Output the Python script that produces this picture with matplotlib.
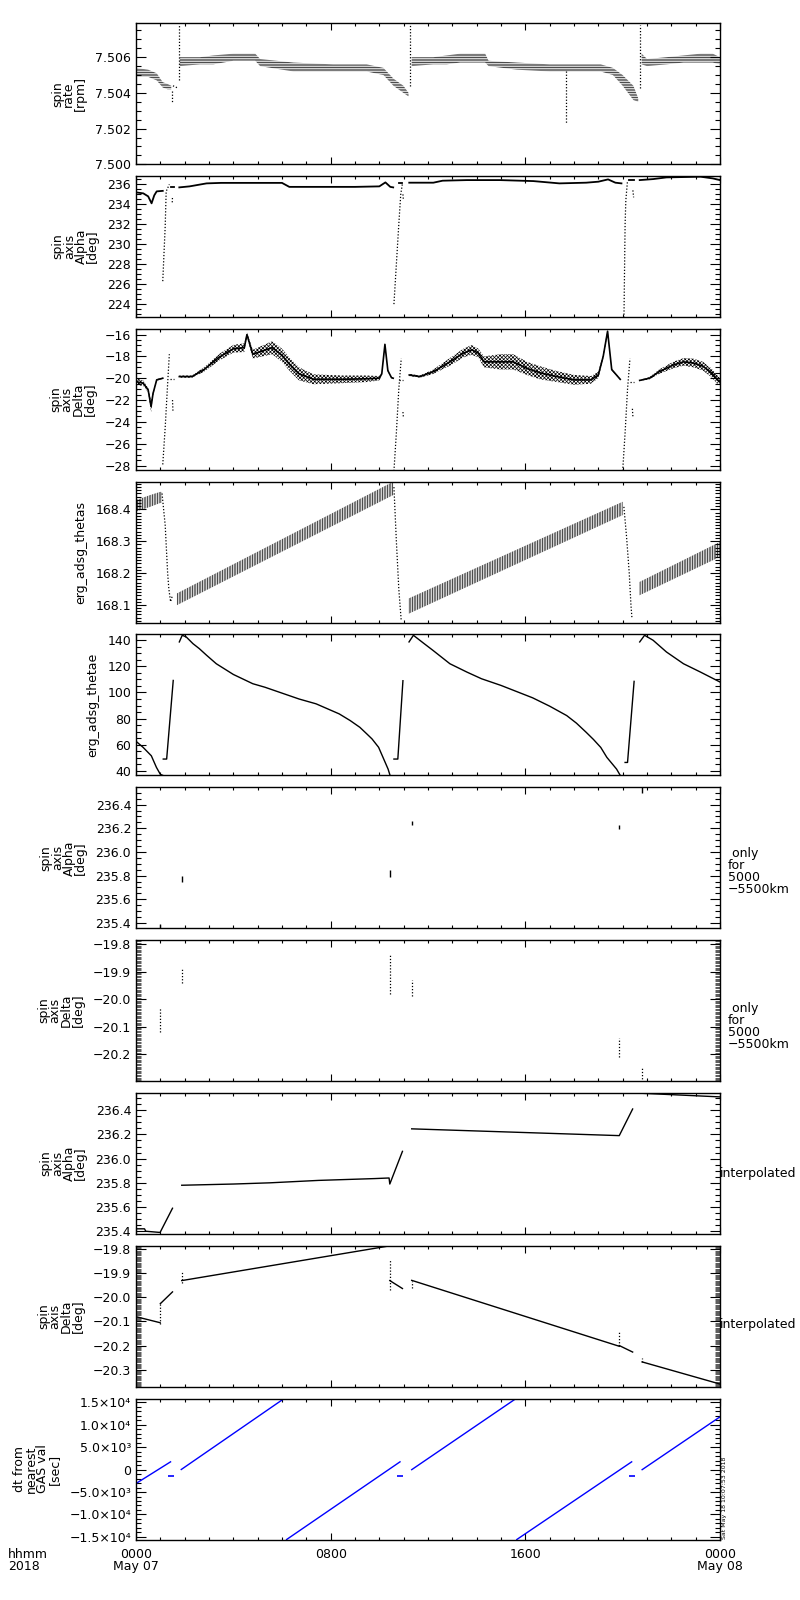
import matplotlib
matplotlib.use('Agg')
import matplotlib.pyplot as plt
from matplotlib.ticker import MultipleLocator, FuncFormatter

plt.rcParams['font.family'] = ['DejaVu Sans']
plt.rcParams['font.size'] = 9
plt.rcParams['hatch.linewidth'] = 0.5
plt.rcParams['hatch.color'] = 'black'

# ---------------- data (time in hours from 2018-05-07 00:00) ----------------
# panel 1: spin rate [rpm] -- banded scatter, low / high edge per segment
rate_band_t = [[0.0, 0.5, 0.85, 1.1, 1.3, 1.45],
               [1.8, 2.63, 3.18, 4.0, 4.9, 5.1, 6.47, 8.1, 9.48, 10.17, 10.58, 10.99, 11.2],
               [11.33, 12.22, 12.77, 13.32, 14.35, 14.49, 15.66, 17.0, 19.1, 19.6, 20.0, 20.44, 20.64],
               [20.78, 21.0, 21.8, 22.5, 23.2, 23.7, 24.0]]
rate_band_lo = [[7.5049, 7.5049, 7.5047, 7.5043, 7.5042, 7.5042],
                [7.5055, 7.5056, 7.5056, 7.5058, 7.5058, 7.5055, 7.5052, 7.5052, 7.5052, 7.5050, 7.5044, 7.5040, 7.5038],
                [7.5055, 7.5056, 7.5056, 7.5057, 7.5057, 7.5055, 7.5053, 7.5052, 7.5052, 7.5050, 7.5044, 7.5036, 7.5035],
                [7.5056, 7.5055, 7.5056, 7.5057, 7.5057, 7.5057, 7.5056]]
rate_band_hi = [[7.5054, 7.5053, 7.5051, 7.5046, 7.5045, 7.5044],
                [7.5060, 7.5060, 7.5061, 7.5062, 7.5062, 7.5059, 7.5057, 7.5056, 7.5056, 7.5054, 7.5048, 7.5044, 7.5040],
                [7.5060, 7.5060, 7.5061, 7.5062, 7.5062, 7.5058, 7.5057, 7.5056, 7.5056, 7.5054, 7.5050, 7.5044, 7.5037],
                [7.5062, 7.5059, 7.5060, 7.5061, 7.5062, 7.5062, 7.5060]]
rate_jump_t = [[1.52, 1.75], [1.48, 1.48], [1.78, 1.78], [11.26, 11.26], [17.67, 17.67], [20.7, 20.7]]
rate_jump_v = [[7.5044, 7.50425], [7.5041, 7.5035], [7.5047, 7.5078], [7.5044, 7.5078], [7.5052, 7.5023], [7.5043, 7.5078]]

# panel 2: spin axis alpha [deg]
alpha_line_t = [[0.0, 0.3, 0.5, 0.64, 0.75, 0.85, 1.1],
                [1.78, 2.2, 2.9, 3.5, 6.0, 6.3, 7.5, 9.0, 10.0, 10.25, 10.45, 10.57],
                [11.23, 12.22, 12.6, 13.6, 14.96, 16.33, 17.4, 18.5, 19.0, 19.4, 19.7, 19.95],
                [20.7, 21.25, 21.8, 23.2, 23.7, 24.0],
                [1.42, 1.58], [10.8, 10.92], [20.25, 20.45]]
alpha_line_v = [[235.2, 235.1, 234.8, 234.1, 234.9, 235.3, 235.35],
                [235.7, 235.8, 236.1, 236.15, 236.15, 235.75, 235.75, 235.75, 235.8, 236.2, 235.75, 235.7],
                [236.17, 236.17, 236.37, 236.43, 236.43, 236.33, 236.1, 236.17, 236.27, 236.5, 236.17, 236.1],
                [236.43, 236.53, 236.7, 236.77, 236.6, 236.43],
                [235.75, 235.75], [236.1, 236.1], [236.4, 236.4]]
alpha_jump_t = [[1.1, 1.2, 1.24, 1.37], [1.49, 1.5], [10.6, 10.7, 10.8, 10.88, 10.95], [10.97, 10.99],
                [20.05, 20.1, 20.13, 20.2], [20.42, 20.45]]
alpha_jump_v = [[226.3, 231.8, 235.3, 236.0], [234.2, 234.8], [224.0, 228.0, 232.0, 235.0, 236.1], [235.0, 234.4],
                [222.0, 232.0, 234.4, 236.4], [235.4, 234.7]]

# panel 3: spin axis delta [deg] -- scatter band: centre / half width
delta_band_t = [[0.0, 0.3, 0.5, 0.62, 0.7, 0.85, 1.1],
                [1.78, 2.3, 2.8, 3.4, 4.0, 4.45, 4.56, 4.8, 5.2, 5.6, 6.0, 6.3, 6.7, 7.3, 8.5, 9.5, 10.0, 10.1, 10.23, 10.35, 10.5, 10.57],
                [11.23, 11.67, 12.22, 12.9, 13.45, 13.8, 14.07, 14.3, 14.96, 15.5, 16.07, 16.6, 17.3, 18.0, 18.7, 19.0, 19.2, 19.38, 19.55, 19.9],
                [20.7, 21.1, 21.5, 22.07, 22.5, 22.9, 23.3, 23.65, 23.9, 24.0]]
delta_band_c = [[-20.31, -20.46, -21.08, -22.6, -21.4, -20.15, -20.0],
                [-19.85, -19.85, -19.2, -18.1, -17.3, -17.2, -16.0, -17.8, -17.5, -17.2, -17.9, -18.7, -19.6, -20.1, -20.1, -20.05, -20.0, -19.6, -16.9, -19.3, -19.95, -20.0],
                [-19.7, -19.85, -19.4, -18.5, -17.7, -17.4, -17.7, -18.5, -18.5, -18.5, -19.1, -19.5, -19.85, -20.15, -20.15, -19.7, -18.0, -15.7, -19.2, -20.1],
                [-20.2, -20.0, -19.4, -18.8, -18.5, -18.6, -18.9, -19.5, -20.15, -20.3]]
delta_band_hw = [[0.3, 0.25, 0.2, 0.5, 0.2, 0.08, 0.05],
                 [0.1, 0.1, 0.2, 0.3, 0.35, 0.4, 0.2, 0.4, 0.5, 0.6, 0.6, 0.6, 0.6, 0.45, 0.35, 0.3, 0.2, 0.15, 0.15, 0.1, 0.05, 0.05],
                 [0.1, 0.1, 0.2, 0.35, 0.4, 0.45, 0.4, 0.5, 0.7, 0.7, 0.6, 0.6, 0.5, 0.45, 0.35, 0.3, 0.2, 0.2, 0.1, 0.05],
                 [0.05, 0.1, 0.2, 0.3, 0.35, 0.4, 0.4, 0.4, 0.4, 0.3]]
delta_jump_t = [[1.1, 1.2, 1.3, 1.37], [1.5, 1.52], [1.38, 1.55], [10.6, 10.7, 10.8, 10.9], [10.97, 10.99],
                [10.82, 10.97], [20.0, 20.1, 20.2, 20.3], [20.4, 20.42], [20.3, 20.45]]
delta_jump_v = [[-27.9, -24.5, -20.5, -17.8], [-22.0, -23.1], [-20.1, -20.1], [-28.5, -25.0, -21.0, -18.2], [-23.1, -23.6],
                [-20.2, -20.2], [-28.5, -25.0, -21.0, -18.2], [-22.8, -23.5], [-20.3, -20.3]]

# panel 4: erg_adsg_thetas -- sawtooth band
thetas_band_t = [[0.0, 0.58, 0.99, 1.07], [1.68, 10.57], [11.2, 20.0], [20.69, 24.0]]
thetas_band_lo = [[168.393, 168.408, 168.42, 168.42], [168.099, 168.445], [168.072, 168.382], [168.13, 168.251]]
thetas_band_hi = [[168.429, 168.445, 168.455, 168.455], [168.136, 168.487], [168.12, 168.424], [168.172, 168.298]]
thetas_jump_t = [[1.07, 1.2, 1.3, 1.35, 1.42, 1.5], [10.6, 10.7, 10.8, 10.85, 10.9],
                 [20.05, 20.16, 20.27, 20.34, 20.38]]
thetas_jump_v = [[168.45, 168.35, 168.2, 168.15, 168.11, 168.13], [168.47, 168.3, 168.15, 168.1, 168.05],
                 [168.408, 168.314, 168.2, 168.1, 168.06]]

# panel 5: erg_adsg_thetae
thetae_t = [[0.0, 0.29, 0.63, 0.84, 1.0, 1.1],
            [1.12, 1.26, 1.53],
            [1.78, 1.9, 2.06, 2.34, 2.6, 2.9, 3.3, 4.0, 4.8, 5.3, 6.0, 6.7, 7.4, 8.35, 8.8, 9.2, 9.5, 9.7, 9.97,
             10.15, 10.36, 10.44],
            [10.6, 10.76, 10.97],
            [11.22, 11.4, 11.8, 12.2, 12.9, 13.6, 14.2, 15.0, 16.3, 17.0, 17.7, 18.1, 18.5, 18.8, 19.1, 19.35,
             19.75, 19.9],
            [20.1, 20.2, 20.47],
            [20.7, 20.9, 21.25, 21.8, 22.5, 23.2, 24.0]]
thetae_v = [[62.6, 58.0, 51.5, 42.6, 37.3, 36.5],
            [49.0, 49.0, 109.2],
            [138.7, 143.8, 142.6, 137.4, 133.6, 128.5, 122.0, 113.8, 106.7, 104.0, 99.5, 95.0, 91.3, 83.6, 78.5,
             73.3, 68.0, 64.4, 58.0, 50.3, 41.3, 36.5],
            [49.0, 49.0, 109.0],
            [138.7, 143.8, 138.0, 132.3, 122.0, 115.6, 110.5, 105.4, 95.9, 89.5, 82.3, 76.5, 69.5, 64.0, 57.9,
             50.3, 41.3, 36.5],
            [46.4, 46.4, 108.5],
            [138.7, 143.8, 140.0, 131.0, 122.0, 115.6, 108.0]]

# panels 6/7: GAS values only for 5000-5500 km (short vertical marks)
gas_t = [0.99, 1.88, 10.43, 11.33, 19.86, 20.78]
gas_alpha_lo = [235.36, 235.75, 235.79, 236.23, 236.19, 236.50]
gas_alpha_hi = [235.39, 235.80, 235.85, 236.26, 236.23, 236.55]
gas_delta_lo = [-20.12, -19.94, -19.98, -19.99, -20.21, -20.30]
gas_delta_hi = [-20.03, -19.89, -19.84, -19.93, -20.14, -20.25]

# panel 8: interpolated alpha
ialpha_t = [[0.0, 0.35, 0.4, 0.99, 1.5],
            [1.88, 4.0, 5.5, 7.5, 9.8, 10.4, 10.43, 10.95],
            [11.33, 19.86, 20.41],
            [20.78, 24.0]]
ialpha_v = [[235.42, 235.42, 235.40, 235.39, 235.59],
            [235.78, 235.79, 235.80, 235.82, 235.835, 235.84, 235.79, 236.06],
            [236.246, 236.19, 236.41],
            [236.54, 236.51]]

# panel 9: interpolated delta
idelta_t = [[0.0, 0.99], [1.0, 1.5], [1.88, 10.4], [10.43, 10.95], [11.33, 19.86], [19.86, 20.41], [20.8, 24.0]]
idelta_v = [[-20.08, -20.105], [-20.026, -19.977], [-19.93, -19.786], [-19.93, -19.963],
            [-19.929, -20.203], [-20.2, -20.227], [-20.268, -20.36]]
idelta_dot_t = [0.99, 1.88, 10.42, 11.33, 19.86, 20.8]
idelta_dot_lo = [-20.11, -19.94, -19.97, -19.96, -20.2, -20.27]
idelta_dot_hi = [-20.02, -19.89, -19.84, -19.93, -20.14, -20.25]

# panel 10: dt from nearest GAS value [sec]
dt_t = [[0.0, 1.42], [1.86, 6.05], [6.19, 10.85], [11.33, 15.58], [15.65, 20.37], [20.8, 24.0]]
dt_v = [[-3089, 1749], [37, 15744], [-15596, 1749], [0, 15744], [-15596, 1749], [0, 11800]]
dt_mark_t = [1.42, 10.85, 20.37]
dt_mark_v = [-1377, -1377, -1377]
dt_tick_labels = {15000: '1.5\u00d710\u2074', 10000: '1.0\u00d710\u2074', 5000: '5.0\u00d710\u00b3', 0: '0',
                  -5000: '\u22125.0\u00d710\u00b3', -10000: '\u22121.0\u00d710\u2074', -15000: '\u22121.5\u00d710\u2074'}

x_tick_labels = ['0000\nMay 07', '0800', '1600', '0000\nMay 08']


def fmt(dec):
    return FuncFormatter(lambda v, p: f'{v:.{dec}f}'.replace('-', '\u2212'))


def style(ax, ylim, major, minor, dec, label, minor_width=0.8):
    ax.set_xlim(0, 24)
    ax.set_ylim(*ylim)
    ax.xaxis.set_major_locator(MultipleLocator(8))
    ax.xaxis.set_minor_locator(MultipleLocator(1))
    ax.yaxis.set_major_locator(MultipleLocator(major))
    ax.yaxis.set_minor_locator(MultipleLocator(minor))
    ax.tick_params(which='both', direction='in', top=True, right=True, width=0.8, labelsize=9)
    ax.tick_params(axis='y', which='major', length=7)
    ax.tick_params(axis='y', which='minor', length=3.5, width=minor_width)
    ax.tick_params(axis='x', which='major', length=5)
    ax.tick_params(axis='x', which='minor', length=2.5, width=0.8)
    ax.tick_params(axis='x', labelbottom=False)
    if dec is not None:
        ax.yaxis.set_major_formatter(fmt(dec))
    ax.set_ylabel(label, linespacing=0.85, labelpad=6)
    for s in ax.spines.values():
        s.set_linewidth(1.0)


fig = plt.figure(figsize=(8, 16), dpi=100)
axes = []
for i in range(10):
    top = 23.3 + i * 152.8
    axes.append(fig.add_axes([136 / 800, 1 - (top + 141) / 1600, 584 / 800, 141 / 1600]))

dots = (0, (1, 1.5))

# 1 spin rate
ax = axes[0]
for t, lo, hi in zip(rate_band_t, rate_band_lo, rate_band_hi):
    ax.fill_between(t, lo, hi, facecolor='none', edgecolor='black', hatch='-' * 10, linewidth=0)
for t, v in zip(rate_jump_t, rate_jump_v):
    ax.plot(t, v, color='black', lw=0.9, ls=dots)
style(ax, (7.5000, 7.5079), 0.002, 0.0005, 3, 'spin\nrate\n[rpm]')

# 2 alpha
ax = axes[1]
for t, v in zip(alpha_line_t, alpha_line_v):
    ax.plot(t, v, color='black', lw=1.3)
for t, v in zip(alpha_jump_t, alpha_jump_v):
    ax.plot(t, v, color='black', lw=0.9, ls=dots)
style(ax, (222.7, 236.83), 2, 0.5, 0, 'spin\naxis\nAlpha\n[deg]')

# 3 delta
ax = axes[2]
for t, c, hw in zip(delta_band_t, delta_band_c, delta_band_hw):
    lo = [a - b for a, b in zip(c, hw)]
    hi = [a + b for a, b in zip(c, hw)]
    ax.fill_between(t, lo, hi, facecolor='none', edgecolor='black', hatch='x' * 9, linewidth=0)
    ax.plot(t, c, color='black', lw=1.2)
for t, v in zip(delta_jump_t, delta_jump_v):
    ax.plot(t, v, color='black', lw=0.9, ls=dots)
style(ax, (-28.4, -15.48), 2, 0.5, 0, 'spin\naxis\nDelta\n[deg]')

# 4 thetas
ax = axes[3]
for t, lo, hi in zip(thetas_band_t, thetas_band_lo, thetas_band_hi):
    ax.fill_between(t, lo, hi, facecolor='none', edgecolor='black', hatch='|' * 10, linewidth=0)
for t, v in zip(thetas_jump_t, thetas_jump_v):
    ax.plot(t, v, color='black', lw=0.9, ls=dots)
style(ax, (168.044, 168.487), 0.1, 0.01, 1, 'erg_adsg_thetas')

# 5 thetae
ax = axes[4]
for t, v in zip(thetae_t, thetae_v):
    ax.plot(t, v, color='black', lw=1.0)
style(ax, (36.4, 144.4), 20, 5, 0, 'erg_adsg_thetae')

# 6 alpha (5000-5500 km only)
ax = axes[5]
ax.vlines(gas_t, gas_alpha_lo, gas_alpha_hi, color='black', lw=1.0)
style(ax, (235.355, 236.546), 0.2, 0.05, 1, 'spin\naxis\nAlpha\n[deg]')
ax.text(1.013, 0.40, ' only\nfor\n5000\n\u22125500km', transform=ax.transAxes,
        ha='left', va='center', linespacing=0.9)

# 7 delta (5000-5500 km only)
ax = axes[6]
ax.vlines(gas_t, gas_delta_lo, gas_delta_hi, color='black', lw=0.9, linestyles=[dots])
style(ax, (-20.298, -19.785), 0.1, 0.005, 1, 'spin\naxis\nDelta\n[deg]', minor_width=0.45)
ax.text(1.013, 0.39, ' only\nfor\n5000\n\u22125500km', transform=ax.transAxes,
        ha='left', va='center', linespacing=0.9)

# 8 interpolated alpha
ax = axes[7]
for t, v in zip(ialpha_t, ialpha_v):
    ax.plot(t, v, color='black', lw=1.0)
style(ax, (235.378, 236.543), 0.2, 0.05, 1, 'spin\naxis\nAlpha\n[deg]')
ax.text(1.0, 0.43, 'interpolated', transform=ax.transAxes, ha='left', va='center')

# 9 interpolated delta
ax = axes[8]
for t, v in zip(idelta_t, idelta_v):
    ax.plot(t, v, color='black', lw=1.0)
ax.vlines(idelta_dot_t, idelta_dot_lo, idelta_dot_hi, color='black', lw=0.9, linestyles=[dots])
style(ax, (-20.371, -19.785), 0.1, 0.005, 1, 'spin\naxis\nDelta\n[deg]', minor_width=0.45)
ax.text(1.0, 0.44, 'interpolated', transform=ax.transAxes, ha='left', va='center')

# 10 dt
ax = axes[9]
for t, v in zip(dt_t, dt_v):
    ax.plot(t, v, color='#0000ff', lw=1.0)
ax.plot(dt_mark_t, dt_mark_v, ls='none', marker='_', ms=4, mew=1.2, color='#0000ff')
style(ax, (-15596, 15893), 5000, 1000, None, 'dt from\nnearest\nGAS val\n[sec]')
ax.yaxis.set_major_formatter(FuncFormatter(lambda v, p: dt_tick_labels.get(int(round(v)), '')))
ax.tick_params(axis='x', labelbottom=True, pad=6)
ax.set_xticks([0, 8, 16, 24])
ax.set_xticklabels(x_tick_labels)
for lbl in ax.get_xticklabels():
    lbl.set_linespacing(0.95)

fig.text(8 / 800, 1 - 1548 / 1600, 'hhmm\n2018', ha='left', va='top', fontsize=9, linespacing=0.95)
fig.text(722 / 800, 1 - 1539 / 1600, 'Sat May 18 10:07:53 2018', rotation=90,
         ha='left', va='bottom', fontsize=4.5)

fig.savefig('out.png', dpi=100)
